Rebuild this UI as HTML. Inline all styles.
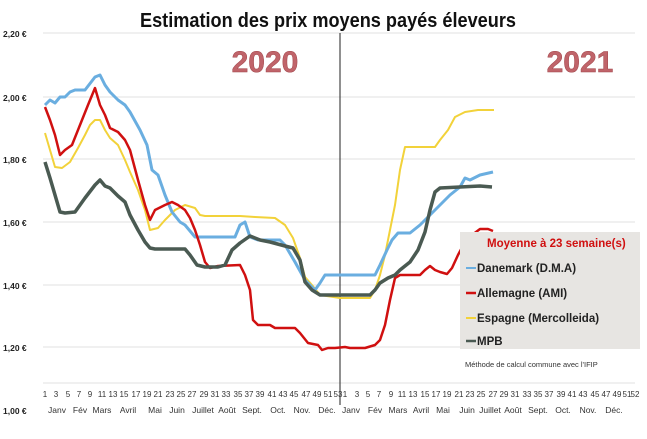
<!DOCTYPE html>
<html><head><meta charset="utf-8"><style>
html,body{margin:0;padding:0;background:#fff;}
svg{display:block;font-family:"Liberation Sans",sans-serif;}
</style></head><body>
<svg width="647" height="439" viewBox="0 0 647 439" xmlns="http://www.w3.org/2000/svg">
<rect width="647" height="439" fill="#fff"/>
<text x="328" y="27" text-anchor="middle" font-size="20" font-weight="bold" fill="#111" textLength="376" lengthAdjust="spacingAndGlyphs">Estimation des prix moyens payés éleveurs</text>
<g stroke="#e2e2e2" stroke-width="1">
<line x1="43" y1="33" x2="635" y2="33"/><line x1="43" y1="97" x2="635" y2="97"/>
<line x1="43" y1="159" x2="635" y2="159"/><line x1="43" y1="222" x2="635" y2="222"/>
<line x1="43" y1="285" x2="635" y2="285"/><line x1="43" y1="347" x2="635" y2="347"/>
<line x1="43" y1="383" x2="635" y2="383"/>
</g>
<g font-size="8.5" font-weight="bold" fill="#222">
<text x="3" y="37">2,20 €</text><text x="3" y="101">2,00 €</text><text x="3" y="163">1,80 €</text>
<text x="3" y="226">1,60 €</text><text x="3" y="289">1,40 €</text><text x="3" y="351">1,20 €</text>
<text x="3" y="414">1,00 €</text>
</g>
<text x="265" y="72" text-anchor="middle" font-size="30" font-weight="bold" fill="#c0646a" stroke="#a0454a" stroke-width="0.5">2020</text>
<text x="580" y="72" text-anchor="middle" font-size="30" font-weight="bold" fill="#c0646a" stroke="#a0454a" stroke-width="0.5">2021</text>
<line x1="340" y1="33" x2="340" y2="405" stroke="#222" stroke-width="1"/>
<g fill="none" stroke-linejoin="round">
<polyline stroke="#f2d23a" stroke-width="2" points="45,133 50,150 55,167 62,168 70,162 78,148 85,135 90,125 95,120 100,120 105,130 110,138 118,145 125,160 130,172 138,190 145,210 150,230 158,228 165,220 175,210 185,205 195,208 200,215 205,216 240,216 255,217 275,218 285,225 293,238 300,258 305,277 312,285 320,295 340,298 370,298 375,290 380,275 385,255 390,230 395,205 400,170 405,147 435,147 440,140 448,130 455,117 465,112 478,110 494,110"/>
<polyline stroke="#6aaee0" stroke-width="3" points="45,105 50,100 55,103 60,97 65,97 70,92 75,90 85,90 95,77 100,75 105,85 110,92 118,100 125,105 130,112 140,130 147,145 152,170 158,175 165,195 172,212 180,222 185,225 195,237 235,237 240,225 245,222 250,237 258,240 280,240 285,245 295,262 305,280 315,290 320,283 325,275 375,275 380,265 387,250 392,240 398,233 410,233 420,225 430,215 440,205 450,195 460,187 465,178 470,180 480,175 493,172"/>
<polyline stroke="#d01010" stroke-width="2.5" points="45,107 50,120 55,135 60,155 65,150 72,145 80,125 88,105 95,88 100,105 105,115 110,128 118,132 125,140 130,150 138,180 145,205 150,220 155,210 165,205 172,202 178,205 185,210 190,218 195,230 200,245 205,262 210,268 218,266 240,265 245,275 250,290 253,320 258,325 270,325 275,328 295,328 300,333 308,343 318,345 322,350 328,348 335,348 345,347 350,348 365,348 375,345 380,340 385,325 390,300 395,278 400,275 420,275 425,270 430,266 435,270 440,272 447,274 452,268 458,255 465,242 472,235 480,229 488,229 493,231"/>
<polyline stroke="#4a5a52" stroke-width="3.5" points="45,162 50,178 55,195 60,212 65,213 75,212 85,198 95,185 100,180 105,186 110,188 118,196 125,202 130,215 138,230 145,242 150,248 155,249 185,249 190,255 197,265 205,267 218,267 225,265 232,250 240,243 250,236 260,240 270,242 285,246 293,248 300,260 305,282 312,290 320,295 370,295 375,290 380,283 388,278 395,275 400,270 410,262 418,250 425,232 430,210 435,192 440,188 460,187 480,186 492,187"/>
</g>
<rect x="460" y="232" width="180" height="117" fill="#e7e5e2"/>
<g font-size="11.5" font-weight="bold">
<text x="487" y="247" fill="#d01010">Moyenne à  23 semaine(s)</text>
<line x1="466" y1="268" x2="476" y2="268" stroke="#6aaee0" stroke-width="2"/><text x="477" y="272" fill="#222">Danemark (D.M.A)</text>
<line x1="466" y1="293" x2="476" y2="293" stroke="#d01010" stroke-width="2.5"/><text x="477" y="297" fill="#222">Allemagne (AMI)</text>
<line x1="466" y1="318" x2="476" y2="318" stroke="#f2d23a" stroke-width="2"/><text x="477" y="322" fill="#222">Espagne (Mercolleida)</text>
<line x1="466" y1="341" x2="476" y2="341" stroke="#4a5a52" stroke-width="2.5"/><text x="477" y="345" fill="#222">MPB</text>
</g>
<text x="465" y="367" font-size="7.5" fill="#333">Méthode de calcul commune avec l'IFIP</text>
<g font-size="8.5" fill="#333" text-anchor="middle">
<text x="57" y="413">Janv</text><text x="80" y="413">Fév</text><text x="102" y="413">Mars</text><text x="128" y="413">Avril</text><text x="155" y="413">Mai</text><text x="177" y="413">Juin</text><text x="203" y="413">Juillet</text><text x="227" y="413">Août</text><text x="252" y="413">Sept.</text><text x="278" y="413">Oct.</text><text x="302" y="413">Nov.</text><text x="327" y="413">Déc.</text>
<text x="351" y="413">Janv</text><text x="375" y="413">Fév</text><text x="398" y="413">Mars</text><text x="421" y="413">Avril</text><text x="443" y="413">Mai</text><text x="467" y="413">Juin</text><text x="490" y="413">Juillet</text><text x="513" y="413">Août</text><text x="538" y="413">Sept.</text><text x="563" y="413">Oct.</text><text x="588" y="413">Nov.</text><text x="614" y="413">Déc.</text>
</g>
<g font-size="8" fill="#333" text-anchor="middle">
<text x="45" y="397">1</text><text x="56" y="397">3</text><text x="68" y="397">5</text><text x="79" y="397">7</text><text x="90" y="397">9</text><text x="102" y="397">11</text><text x="113" y="397">13</text><text x="124" y="397">15</text><text x="136" y="397">17</text><text x="147" y="397">19</text><text x="158" y="397">21</text><text x="170" y="397">23</text><text x="181" y="397">25</text><text x="192" y="397">27</text><text x="204" y="397">29</text><text x="215" y="397">31</text><text x="226" y="397">33</text><text x="238" y="397">35</text><text x="249" y="397">37</text><text x="260" y="397">39</text><text x="272" y="397">41</text><text x="283" y="397">43</text><text x="294" y="397">45</text><text x="306" y="397">47</text><text x="317" y="397">49</text><text x="328" y="397">51</text><text x="338" y="397">53</text>
<text x="345" y="397">1</text><text x="357" y="397">3</text><text x="368" y="397">5</text><text x="379" y="397">7</text><text x="391" y="397">9</text><text x="402" y="397">11</text><text x="413" y="397">13</text><text x="425" y="397">15</text><text x="436" y="397">17</text><text x="447" y="397">19</text><text x="459" y="397">21</text><text x="470" y="397">23</text><text x="481" y="397">25</text><text x="493" y="397">27</text><text x="504" y="397">29</text><text x="515" y="397">31</text><text x="527" y="397">33</text><text x="538" y="397">35</text><text x="549" y="397">37</text><text x="561" y="397">39</text><text x="572" y="397">41</text><text x="583" y="397">43</text><text x="595" y="397">45</text><text x="606" y="397">47</text><text x="617" y="397">49</text><text x="627" y="397">51</text><text x="635" y="397">52</text>
</g>
</svg>
</body></html>
